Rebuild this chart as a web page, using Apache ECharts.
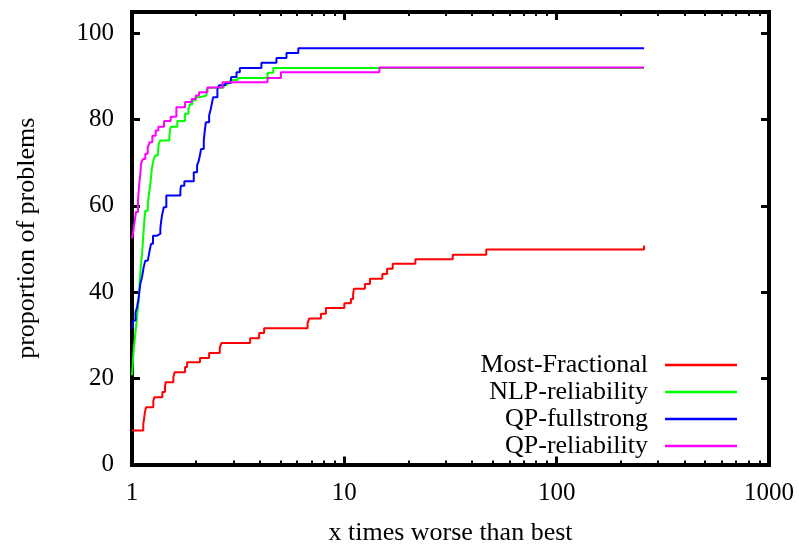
<!DOCTYPE html>
<html>
<head>
<meta charset="utf-8">
<script src="https://cdn.jsdelivr.net/npm/echarts@6/dist/echarts.min.js"></script>
<style>
html,body{margin:0;padding:0;background:#fff;}
#chart{width:799px;height:545px;}
</style>
</head>
<body>
<div id="chart"></div>
<script>
// ---- data (x = times worse than best, y = proportion of problems in %) ----
const seriesNames = ['Most-Fractional', 'NLP-reliability', 'QP-fullstrong', 'QP-reliability'];
const seriesColors = ['#ff0000', '#00ff00', '#0000ff', '#ff00ff'];

const mostFractional = [
  [1, 7.9], [1.13, 9.4], [1.14, 10.6], [1.15, 12.1], [1.165, 13.3], [1.26, 14.8], [1.274, 15.6],
  [1.39, 16.8], [1.43, 18.0], [1.44, 19.1], [1.566, 20.3], [1.589, 21.4], [1.778, 22.6],
  [1.818, 23.7], [2.09, 24.7], [2.308, 25.9], [2.59, 27.1], [2.64, 28.2], [3.6, 29.3],
  [3.97, 30.5], [4.19, 31.6], [6.71, 32.8], [6.84, 33.9], [7.76, 35.0], [8.19, 36.3],
  [10.0, 37.4], [10.74, 38.4], [11.0, 39.6], [11.1, 40.8], [12.5, 41.9], [13.2, 43.1],
  [15.1, 44.2], [15.9, 45.4], [16.9, 46.6], [21.6, 47.6], [32.4, 48.7], [46.6, 49.9], [258, 50.8]
];
const nlpReliability = [
  [1, 20.7], [1.005, 22.0], [1.01, 24.0], [1.02, 27.0], [1.03, 29.0], [1.045, 32.0], [1.06, 35.0],
  [1.075, 38.0], [1.087, 42.7], [1.1, 46.0], [1.115, 48.9], [1.13, 53.0], [1.143, 56.6],
  [1.155, 58.9], [1.186, 60.1], [1.199, 62.4], [1.22, 65.1], [1.243, 69.0], [1.266, 70.9],
  [1.288, 71.7], [1.322, 72.1], [1.336, 74.4], [1.36, 75.2], [1.5, 76.3], [1.51, 77.4],
  [1.523, 78.4], [1.635, 79.7], [1.778, 81.4], [1.844, 82.5], [1.88, 83.6], [1.925, 84.5],
  [1.998, 85.2], [2.08, 85.6], [2.242, 86.8], [2.266, 87.4], [2.7, 88.1], [2.815, 88.7],
  [2.9, 89.2], [3.139, 89.7], [4.347, 90.9], [4.625, 92.0], [258, 92.0]
];
const qpFullstrong = [
  [1, 31.5], [1.014, 33.4], [1.039, 35.3], [1.056, 36.5], [1.073, 38.4], [1.094, 41.9],
  [1.115, 43.5], [1.135, 45.8], [1.155, 47.3], [1.186, 47.7], [1.212, 49.7], [1.229, 51.2],
  [1.256, 53.1], [1.312, 53.5], [1.36, 54.7], [1.37, 56.2], [1.385, 57.8], [1.411, 59.7],
  [1.451, 62.4], [1.69, 63.6], [1.702, 64.7], [1.764, 65.7], [1.954, 67.8], [2.025, 69.4],
  [2.063, 70.5], [2.09, 71.8], [2.115, 73.2], [2.178, 75.2], [2.2, 77.3], [2.227, 79.4],
  [2.308, 81.0], [2.35, 82.5], [2.38, 83.9], [2.41, 85.2], [2.525, 87.2], [2.574, 88.0],
  [2.75, 88.5], [2.922, 89.1], [2.93, 89.9], [3.105, 91.0], [3.22, 92.0], [4.07, 93.2],
  [4.79, 94.3], [5.34, 95.5], [6.07, 96.6], [258, 96.6]
];
const qpReliability = [
  [1, 52.5], [1.015, 54.3], [1.025, 55.8], [1.044, 58.6], [1.067, 61.3], [1.082, 65.1],
  [1.095, 67.5], [1.103, 69.8], [1.127, 70.9], [1.155, 72.1], [1.186, 73.6], [1.212, 74.8],
  [1.247, 76.3], [1.293, 77.5], [1.331, 78.4], [1.416, 79.7], [1.522, 80.7], [1.618, 82.9],
  [1.778, 84.1], [1.911, 84.8], [1.996, 85.6], [2.07, 86.4], [2.266, 87.5], [2.667, 88.7],
  [4.348, 89.7], [5.027, 91.0], [14.63, 92.1], [258, 92.1]
];
const yTickValues = [0, 20, 40, 60, 80, 100];
const xTickLabels = ['1', '10', '100', '1000'];
const xAxisTitle = 'x times worse than best';
const yAxisTitle = 'proportion of problems';

const seriesData = [mostFractional, nlpReliability, qpFullstrong, qpReliability];

const FONT = "'Liberation Serif', 'DejaVu Serif', serif";
const frameLine = { show: true, onZero: false, lineStyle: { color: '#000', width: 4, cap: 'square' } };

function xAxisCfg(pos, showLabels) {
  return {
    type: 'log', logBase: 10, min: 1, max: 1000, position: pos,
    axisLine: frameLine,
    axisTick: { show: true, inside: true, length: 8, lineStyle: { color: '#000', width: 3 } },
    minorTick: { show: true, splitNumber: 9, length: 4, lineStyle: { color: '#000', width: 2 } },
    splitLine: { show: false },
    axisLabel: {
      show: showLabels, margin: 16, color: '#000', fontSize: 25, fontFamily: FONT,
      formatter: v => (xTickLabels.indexOf(String(v)) >= 0 ? String(v) : '')
    },
    name: showLabels ? xAxisTitle : '', nameLocation: 'middle', nameGap: 56,
    nameTextStyle: { color: '#000', fontSize: 26, fontFamily: FONT }
  };
}
function yAxisCfg(pos, showLabels) {
  return {
    type: 'value', min: 0, max: 105, interval: 20, position: pos,
    axisLine: frameLine,
    axisTick: { show: true, inside: true, length: 8, lineStyle: { color: '#000', width: 3 } },
    splitLine: { show: false },
    axisLabel: {
      show: showLabels, margin: 18, color: '#000', fontSize: 25, fontFamily: FONT,
      formatter: v => (yTickValues.indexOf(v) >= 0 ? String(v) : '')
    },
    name: showLabels ? yAxisTitle : '', nameLocation: 'middle', nameGap: 92, nameRotate: 90,
    nameTextStyle: { color: '#000', fontSize: 26, fontFamily: FONT }
  };
}

const chart = echarts.init(document.getElementById('chart'), null, { renderer: 'canvas' });
chart.setOption({
  animation: false,
  backgroundColor: '#fff',
  grid: { left: 132, right: 30, top: 12, bottom: 80.5, containLabel: false, outerBoundsMode: 'none' },
  xAxis: [xAxisCfg('bottom', true), xAxisCfg('top', false)],
  yAxis: [yAxisCfg('left', true), yAxisCfg('right', false)],
  legend: {
    orient: 'vertical', right: 57, top: 347, align: 'right',
    icon: 'rect', itemWidth: 72, itemHeight: 2.5, itemGap: 1,
    textStyle: { color: '#000', fontSize: 26, fontFamily: FONT, padding: [0, 12, 0, 0] },
    data: seriesNames
  },
  series: seriesData.map((d, i) => ({
    name: seriesNames[i], type: 'line', step: 'end', data: d,
    xAxisIndex: 0, yAxisIndex: 0,
    symbol: 'none', color: seriesColors[i],
    lineStyle: { color: seriesColors[i], width: 2 }
  }))
});
</script>
</body>
</html>
